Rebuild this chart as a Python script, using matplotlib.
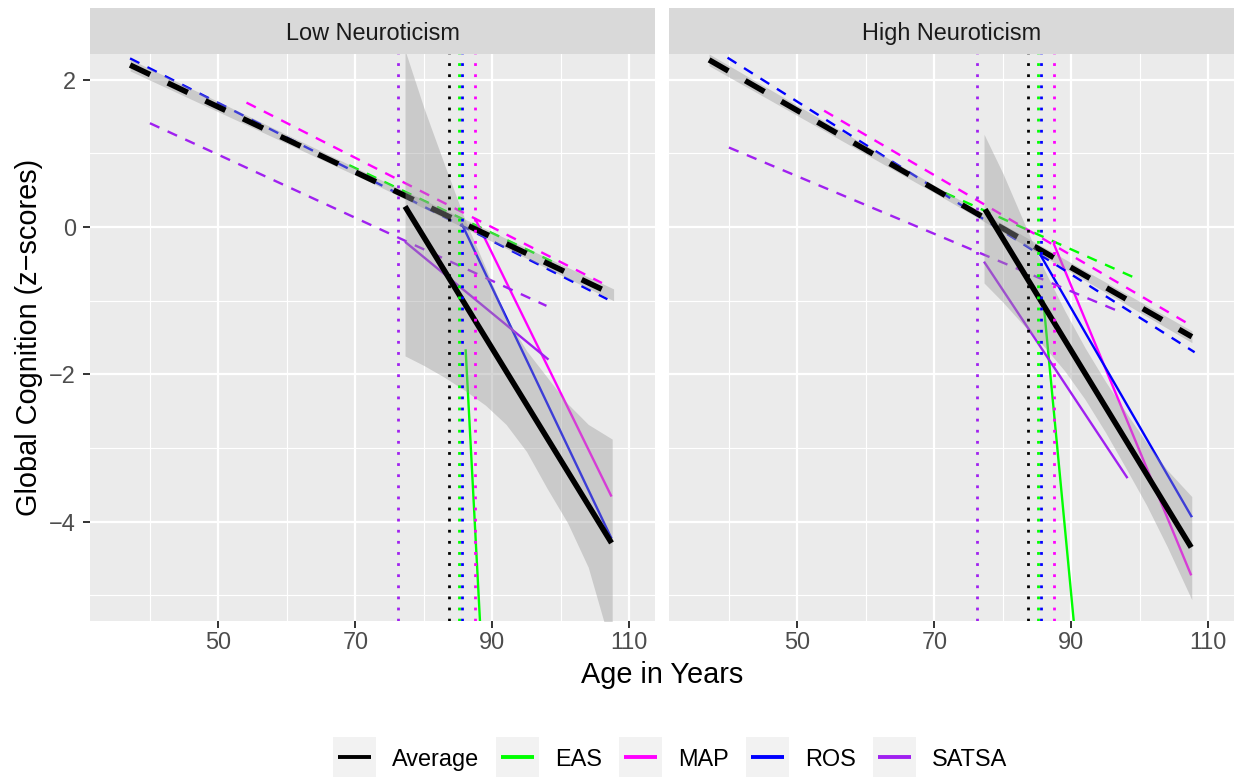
import numpy as np
import matplotlib.pyplot as plt
from matplotlib.patches import Rectangle

plt.rcParams['font.family'] = ['Liberation Sans', 'DejaVu Sans']
plt.rcParams['lines.scale_dashes'] = False

# ---- data ----
series = ['Average', 'EAS', 'MAP', 'ROS', 'SATSA']
panels = ['Low Neuroticism', 'High Neuroticism']

# estimated change points (age), same in both panels
change_age = [83.6, 85.1, 87.4, 85.5, 76.2]

# before the change point (dashed): [start, end] per series
low_pre_age = [[37.1, 107.7], [69.1, 99.9], [54.1, 106.0], [37.1, 106.8], [40.0, 97.9]]
low_pre_val = [[2.20, -0.92], [0.84, -0.52], [1.69, -0.76], [2.29, -0.98], [1.41, -1.07]]
high_pre_age = [[37.1, 107.6], [69.0, 100.0], [53.9, 107.0], [39.8, 108.0], [40.0, 96.8]]
high_pre_val = [[2.27, -1.49], [0.57, -0.72], [1.58, -1.31], [2.30, -1.70], [1.08, -1.14]]

# after the change point (solid)
low_post_age = [[77.25, 107.4], [86.1, 88.25], [87.45, 107.4], [85.5, 107.4], [77.25, 98.2]]
low_post_val = [[0.28, -4.29], [-1.66, -5.45], [0.12, -3.66], [0.05, -4.23], [-0.20, -1.80]]
high_post_age = [[77.4, 107.5], [85.9, 90.45], [87.4, 107.5], [85.3, 107.6], [77.25, 98.2]]
high_post_val = [[0.24, -4.35], [-0.99, -5.45], [-0.22, -4.73], [-0.35, -3.94], [-0.47, -3.41]]

# confidence band of the average line, before change
low_pre_band_age = [37.1, 72.4, 107.7]
low_pre_band_lo = [2.12, 0.60, -1.00]
low_pre_band_hi = [2.28, 0.70, -0.84]
high_pre_band_age = [37.1, 72.35, 107.6]
high_pre_band_lo = [2.19, 0.34, -1.57]
high_pre_band_hi = [2.35, 0.44, -1.41]

# confidence band of the average line, after change
low_post_band_age = [77.25, 80, 83, 86, 89, 92, 95, 98, 101, 104, 107.5]
low_post_band_lo = [-1.75, -1.88, -2.04, -2.22, -2.42, -2.68, -3.05, -3.55, -4.02, -4.62, -5.75]
low_post_band_hi = [2.40, 1.62, 0.85, 0.10, -0.55, -1.22, -1.68, -2.04, -2.40, -2.68, -2.88]
high_post_band_age = [77.25, 80, 83, 86, 89, 92, 95, 98, 101, 104, 107.58]
high_post_band_lo = [-0.76, -1.02, -1.33, -1.62, -1.95, -2.34, -2.79, -3.28, -3.78, -4.34, -5.06]
high_post_band_hi = [1.26, 0.73, 0.08, -0.57, -1.13, -1.64, -2.10, -2.52, -2.93, -3.30, -3.66]

colors = {'Average': 'black', 'EAS': '#00FF00', 'MAP': '#FF00FF',
          'ROS': '#0000FF', 'SATSA': '#A020F0'}

# ---- figure ----
W, H = 1240, 777
fig = plt.figure(figsize=(W / 100, H / 100), dpi=100)

def px_box(x0, y0, x1, y1):
    return [x0 / W, 1 - y1 / H, (x1 - x0) / W, (y1 - y0) / H]

panel_x = [(90, 655), (669, 1234)]
small = 16.9
big = 20.8


def draw_panel(ax, pre_age, pre_val, post_age, post_val,
               pb_age, pb_lo, pb_hi, qb_age, qb_lo, qb_hi, first):
    ax.set_facecolor('#EBEBEB')
    for s in ax.spines.values():
        s.set_visible(False)
    ax.set_xlim(31.25, 113.75)
    ax.set_ylim(-5.35, 2.35)
    ax.set_xticks([50, 70, 90, 110])
    ax.set_xticks([40, 60, 80, 100], minor=True)
    ax.set_yticks([-4, -2, 0, 2])
    ax.set_yticks([-5, -3, -1, 1], minor=True)
    ax.set_yticklabels(['\u22124', '\u22122', '0', '2'])
    ax.grid(which='major', color='white', lw=1.6)
    ax.grid(which='minor', color='white', lw=0.8)
    ax.set_axisbelow(True)
    ax.tick_params(which='major', length=5, width=1.4, color='#333333',
                   labelsize=small, labelcolor='#4D4D4D')
    ax.tick_params(axis='x', which='major', pad=2.5)
    ax.tick_params(axis='y', which='major', pad=5)
    ax.tick_params(which='minor', length=0)
    if not first:
        ax.tick_params(axis='y', which='both', left=False, labelleft=False)

    # study lines
    for i, name in enumerate(series[1:], start=1):
        c = colors[name]
        ax.plot(pre_age[i], pre_val[i], color=c, lw=1.7, dashes=(7.5, 6.5),
                dash_capstyle='butt', zorder=2)
        ax.plot(post_age[i], post_val[i], color=c, lw=1.7,
                solid_capstyle='butt', zorder=2)

    # average with bands
    ax.fill_between(pb_age, pb_lo, pb_hi, color='#999999', alpha=0.4, lw=0, zorder=3)
    ax.plot(pre_age[0], pre_val[0], color='black', lw=4, dashes=(16, 14),
            dash_capstyle='butt', zorder=4)
    ax.fill_between(qb_age, qb_lo, qb_hi, color='#999999', alpha=0.4, lw=0, zorder=5)
    ax.plot(post_age[0], post_val[0], color='black', lw=4,
            solid_capstyle='butt', zorder=6)

    # change points
    for i, name in enumerate(series):
        ax.axvline(change_age[i], color=colors[name], lw=2, dashes=(2, 6),
                   dash_capstyle='butt', zorder=7)


ax_low = fig.add_axes(px_box(panel_x[0][0], 54, panel_x[0][1], 621))
ax_high = fig.add_axes(px_box(panel_x[1][0], 54, panel_x[1][1], 621))

draw_panel(ax_low, low_pre_age, low_pre_val, low_post_age, low_post_val,
           low_pre_band_age, low_pre_band_lo, low_pre_band_hi,
           low_post_band_age, low_post_band_lo, low_post_band_hi, True)
draw_panel(ax_high, high_pre_age, high_pre_val, high_post_age, high_post_val,
           high_pre_band_age, high_pre_band_lo, high_pre_band_hi,
           high_post_band_age, high_post_band_lo, high_post_band_hi, False)

# overlay in pixel units for strips, titles and legend
lax = fig.add_axes([0, 0, 1, 1])
lax.set_xlim(0, W)
lax.set_ylim(H, 0)
lax.axis('off')
lax.patch.set_visible(False)

for (x0, x1), title in zip(panel_x, panels):
    lax.add_patch(Rectangle((x0, 8), x1 - x0, 46, fc='#D9D9D9', lw=0))
    lax.text((x0 + x1) / 2, 40, title, ha='center', va='baseline',
             fontsize=small, color='#1A1A1A')

lax.text(662, 683, 'Age in Years', ha='center', va='baseline', fontsize=big)
lax.text(37, 337.5, 'Global Cognition (z\u2212scores)', rotation=90,
         rotation_mode='anchor', ha='center', va='baseline', fontsize=big)

key_x = [333, 496, 619, 746, 873]
for x, name in zip(key_x, series):
    lax.add_patch(Rectangle((x, 737), 43, 40, fc='#F2F2F2', lw=0))
    lax.plot([x + 5, x + 38], [757, 757], color=colors[name], lw=2.8,
             solid_capstyle='butt')
    lax.text(x + 59, 766, name, ha='left', va='baseline', fontsize=small)

fig.savefig('out.png', dpi=100)
